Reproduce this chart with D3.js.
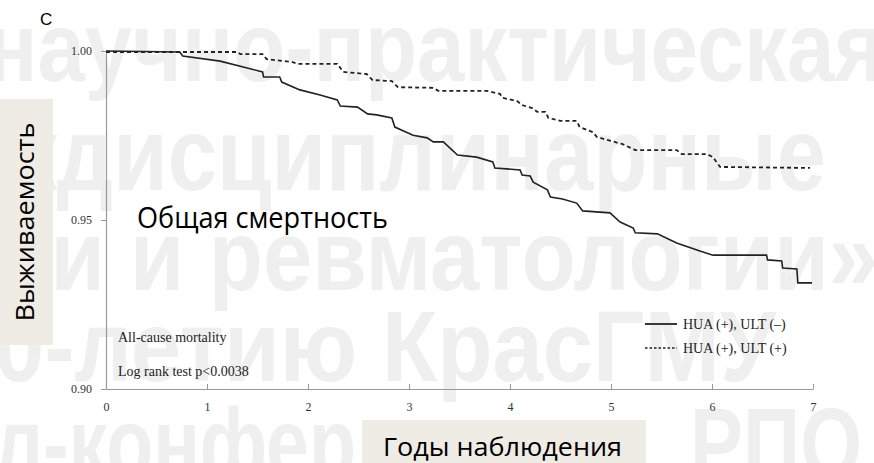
<!DOCTYPE html>
<html>
<head>
<meta charset="utf-8">
<script src="https://cdn.jsdelivr.net/npm/d3@7"></script>
<style>
  body { margin: 0; background: #fff; }
  svg { display: block; }
</style>
</head>
<body>
<svg width="874" height="463"></svg>
<script>
// Kaplan-Meier, all-cause mortality
var ultNoTime = [0, 0.73, 0.76, 1.13, 1.55, 1.56, 1.72, 1.74, 1.92, 2.12, 2.29, 2.32, 2.49, 2.59, 2.68, 2.83, 2.86,
  3.04, 3.18, 3.24, 3.34, 3.48, 3.67, 3.83, 3.85, 4.10, 4.12, 4.20, 4.23, 4.37, 4.40, 4.52, 4.66, 4.72, 4.99,
  5.09, 5.22, 5.24, 5.46, 5.65, 5.88, 6.01, 6.54, 6.55, 6.69, 6.70, 6.84, 6.85, 6.99];
var ultNoSurv = [1.000, 0.9997, 0.9985, 0.9970, 0.9938, 0.9923, 0.9923, 0.9908, 0.9885, 0.9870, 0.9855, 0.9837,
  0.9834, 0.9814, 0.9811, 0.9802, 0.9775, 0.9751, 0.9743, 0.9731, 0.9731, 0.9692, 0.9686, 0.9672, 0.9654,
  0.9648, 0.9633, 0.9630, 0.9612, 0.9589, 0.9568, 0.9562, 0.9550, 0.9527, 0.9521, 0.9494, 0.9476, 0.9462,
  0.9459, 0.9432, 0.9408, 0.9396, 0.9396, 0.9382, 0.9379, 0.9358, 0.9355, 0.9314, 0.9314];

var ultYesTime = [0, 1.30, 1.33, 1.55, 1.59, 1.85, 1.89, 2.29, 2.35, 2.58, 2.64, 2.83, 2.89, 3.24, 3.29, 3.77,
  3.90, 3.93, 4.07, 4.12, 4.22, 4.27, 4.35, 4.38, 4.50, 4.66, 4.69, 4.82, 4.86, 4.96, 5.11, 5.24, 5.65, 5.70,
  5.95, 6.01, 6.08, 6.97];
var ultYesSurv = [0.9997, 0.9997, 0.9991, 0.9991, 0.9976, 0.9967, 0.9962, 0.9962, 0.9938, 0.9932, 0.9914,
  0.9911, 0.9893, 0.9891, 0.9882, 0.9882, 0.9873, 0.9861, 0.9852, 0.9840, 0.9831, 0.9820, 0.9820, 0.9802,
  0.9793, 0.9793, 0.9775, 0.9760, 0.9746, 0.9737, 0.9725, 0.9707, 0.9707, 0.9695, 0.9695, 0.9686, 0.9657, 0.9654];

var xTicks = [0, 1, 2, 3, 4, 5, 6, 7];
var yTicks = [0.90, 0.95, 1.00];
var legendLabels = ["HUA (+), ULT (\u2013)", "HUA (+), ULT (+)"];

const svg = d3.select("svg");

var x = d3.scaleLinear().domain([0, 7]).range([106, 813]);
var y = d3.scaleLinear().domain([0.90, 1.00]).range([389, 51]);

// watermark in the background
var wm = svg.append("g")
  .style("font-family", "'Liberation Sans', Arial, sans-serif")
  .style("font-weight", "bold")
  .style("fill", "#efefef");

function mark(txt, x0, x1, base, size) {
  wm.append("text")
    .attr("x", x0).attr("y", base)
    .attr("textLength", x1 - x0)
    .attr("lengthAdjust", "spacingAndGlyphs")
    .style("font-size", size + "px")
    .text(txt);
}
mark("научно-практическая", -14, 884, 81, 98);
mark("ждисциплинарные", -6, 826, 190, 104);
mark("ии и ревматологии»", -4, 878, 290, 100);
mark("0-летию КрасГМУ", -6, 776, 381, 100);
mark("л-конфер", -6, 356, 478, 100);
mark("РПО", 690, 862, 478, 100);

// beige boxes for the titles
svg.append("rect")
  .attr("x", 0).attr("y", 99).attr("width", 53).attr("height", 246)
  .style("fill", "#eeece4");
svg.append("rect")
  .attr("x", 362).attr("y", 420).attr("width", 284).attr("height", 43)
  .style("fill", "#eeece4");

// axes
var gx = svg.append("g")
  .attr("transform", "translate(0," + y(0.90) + ")")
  .call(d3.axisBottom(x).tickValues(xTicks).tickSize(-5).tickSizeOuter(0).tickPadding(13).tickFormat(d3.format("d")));
var gy = svg.append("g")
  .attr("transform", "translate(" + x(0) + ",0)")
  .call(d3.axisLeft(y).tickValues(yTicks).tickSize(5).tickSizeOuter(0).tickPadding(9).tickFormat(d3.format(".2f")));

[gx, gy].forEach(function(g) {
  g.select(".domain").style("stroke", "#999").style("stroke-width", 1.2);
  g.selectAll(".tick line").style("stroke", "#999");
  g.selectAll(".tick text")
    .style("font-family", "'Liberation Serif', 'Times New Roman', serif")
    .style("font-size", "12px")
    .style("fill", "#333");
});

// survival curves
var line = d3.line()
  .x(function(d) { return x(d[0]); })
  .y(function(d) { return y(d[1]); });

var solidData = d3.zip(ultNoTime, ultNoSurv);
var dashData = d3.zip(ultYesTime, ultYesSurv);

svg.append("path")
  .datum(dashData)
  .attr("d", line)
  .style("fill", "none")
  .style("stroke", "#222")
  .style("stroke-width", 1.8)
  .style("stroke-dasharray", "4,3");

svg.append("path")
  .datum(solidData)
  .attr("d", line)
  .style("fill", "none")
  .style("stroke", "#222")
  .style("stroke-width", 1.6);

// legend
var legend = svg.append("g");
legend.selectAll("line")
    .data(legendLabels)
  .enter().append("line")
    .attr("x1", 645).attr("x2", 677)
    .attr("y1", function(d, i) { return 324 + i * 24; })
    .attr("y2", function(d, i) { return 324 + i * 24; })
    .style("stroke", "#222")
    .style("stroke-width", function(d, i) { return i ? 1.3 : 1.8; })
    .style("stroke-dasharray", function(d, i) { return i ? "2.5,2" : null; });
legend.selectAll("text")
    .data(legendLabels)
  .enter().append("text")
    .attr("x", 683)
    .attr("y", function(d, i) { return 329 + i * 24; })
    .style("font-family", "'Liberation Serif', 'Times New Roman', serif")
    .style("font-size", "14px")
    .style("fill", "#222")
    .text(d => d);

// annotations
var serif = "'Liberation Serif', 'Times New Roman', serif";
svg.append("text")
  .attr("x", 118).attr("y", 342)
  .style("font-family", serif).style("font-size", "14px").style("fill", "#222")
  .text("All-cause mortality");
svg.append("text")
  .attr("x", 118).attr("y", 376)
  .style("font-family", serif).style("font-size", "14px").style("fill", "#222")
  .text("Log rank test p<0.0038");

svg.append("text")
  .attr("x", 40).attr("y", 25)
  .style("font-family", "'Liberation Sans', Arial, sans-serif")
  .style("font-size", "17px")
  .text("C");

var sans = "'Open Sans', 'Noto Sans', sans-serif";
svg.append("text")
  .attr("x", 137).attr("y", 228)
  .attr("textLength", 251)
  .attr("lengthAdjust", "spacingAndGlyphs")
  .style("font-family", sans).style("font-size", "29px").style("fill", "#000")
  .text("Общая смертность");

svg.append("text")
  .attr("transform", "translate(34,222) rotate(-90)")
  .attr("text-anchor", "middle")
  .attr("textLength", 199)
  .attr("lengthAdjust", "spacingAndGlyphs")
  .style("font-family", sans).style("font-size", "25px").style("fill", "#000")
  .text("Выживаемость");

svg.append("text")
  .attr("x", 383).attr("y", 456)
  .attr("textLength", 239)
  .attr("lengthAdjust", "spacingAndGlyphs")
  .style("font-family", sans).style("font-size", "26px").style("fill", "#000")
  .text("Годы наблюдения");
</script>
</body>
</html>
